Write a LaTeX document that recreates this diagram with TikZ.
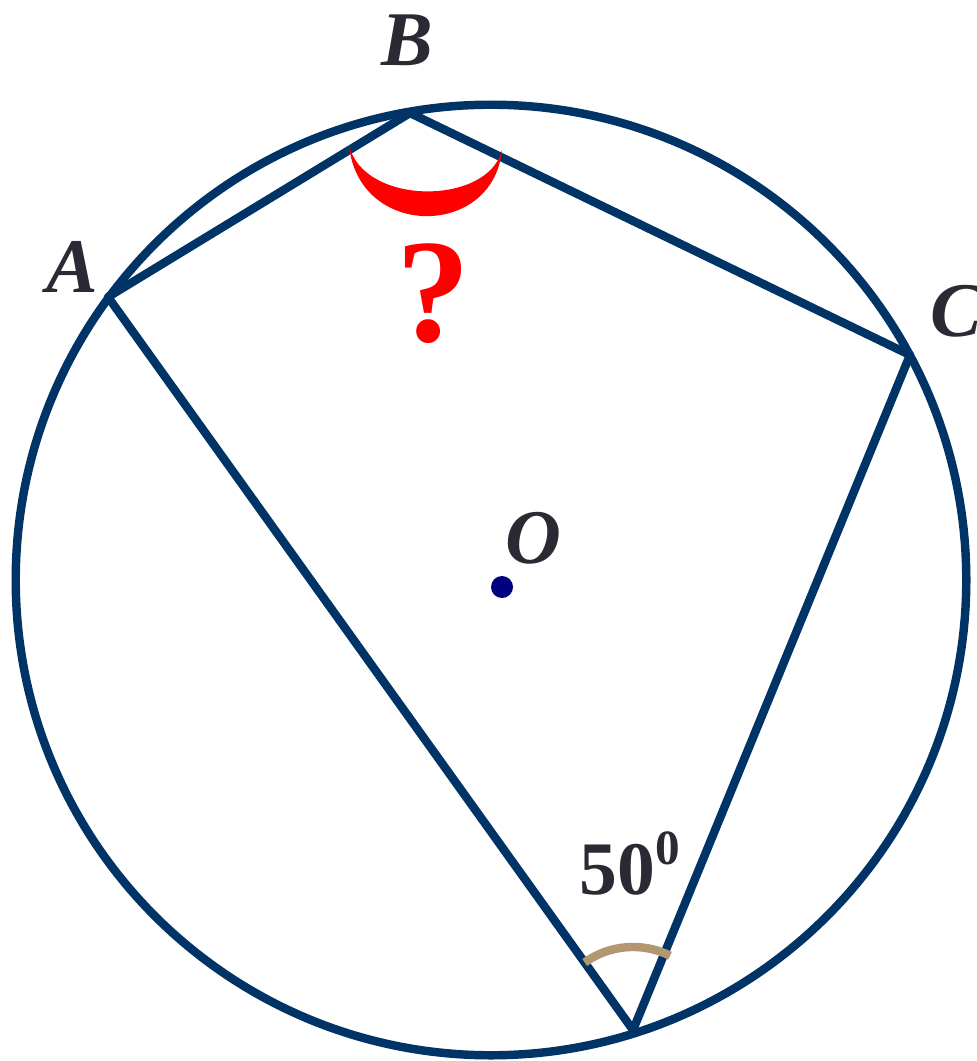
\documentclass[tikz,border=0pt]{standalone}
\usepackage{fontspec}
\setmainfont{Liberation Serif}
\usetikzlibrary{positioning}
\definecolor{linecol}{RGB}{0,51,102}
\definecolor{txtcol}{RGB}{42,42,53}
\definecolor{dotcol}{RGB}{0,0,128}
\definecolor{tancol}{RGB}{179,151,112}
\tikzset{
  chord/.style={draw=linecol, line width=2.4pt, line join=round},
  ptlbl/.style={font=\fontsize{22}{24}\selectfont\bfseries\itshape,
    text=txtcol, inner sep=0pt},
  angmark/.style={draw=tancol, line width=2.4pt},
  qfill/.style={fill=red}
}
\begin{document}
\begin{tikzpicture}[x=0.01cm, y=-0.01cm]
\useasboundingbox (0,0) rectangle (977,1061);

% Points on the circle
\coordinate (ctr) at (491,580);
\coordinate (A) at (108,297);
\coordinate (B) at (410,113);
\coordinate (C) at (910,355);
\coordinate (D) at (633,1030);

% Circle and quadrilateral
\draw[chord] (ctr) circle[radius=4.75cm];
\draw[chord] (A) -- (B) -- (C) -- (D) -- cycle;

% Centre
\fill[dotcol] (502,587) coordinate (O) circle[radius=0.11cm];

% Labels
\node[ptlbl] (lA) at (72,267) {A};
\node[ptlbl] (lB) at (407,40) {B};
\node[ptlbl] (lC) at (956,311) {C};
\node[ptlbl] (lO) at (533,538) {O};

% Unknown angle at B
\fill[qfill] (349,145) .. controls (358,239) and (493,239) .. (502,150)
  .. controls (488,206) and (363,206) .. (349,145) -- cycle;
\node[font=\fontsize{42}{44}\selectfont\bfseries, text=red, inner sep=0pt]
  (q) at (433,294) {?};

% Given angle at D
\draw[angmark] ([shift={(125.6:0.83cm)}]D)
  arc[start angle=125.6, end angle=63.5, radius=0.83cm];
\node[font=\fontsize{21.5}{22}\selectfont\bfseries, text=txtcol, inner sep=0pt,
  anchor=base west] (ang) at (579,894)
  {50\raisebox{0.29cm}{\fontsize{14}{15}\selectfont 0}};

\end{tikzpicture}
\end{document}
